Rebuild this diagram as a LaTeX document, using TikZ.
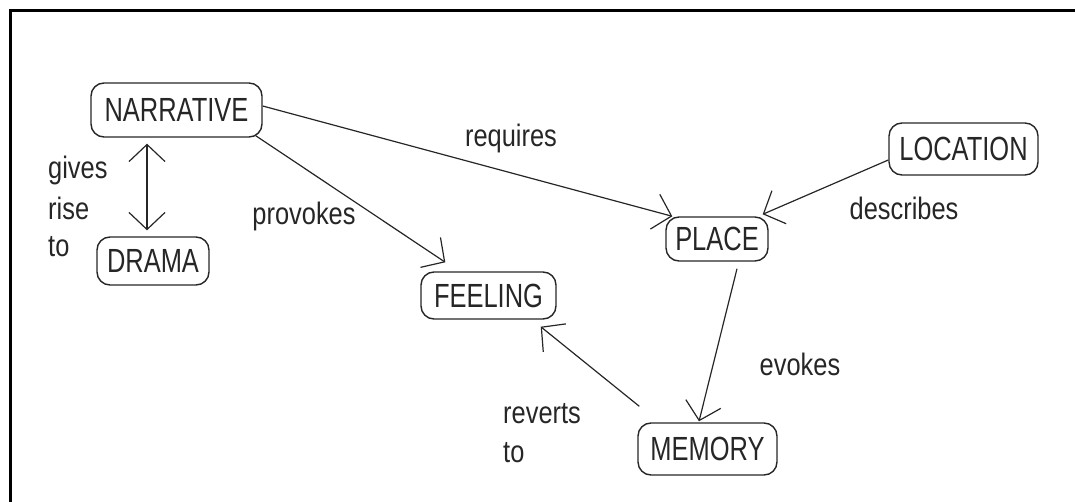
\documentclass[tikz,border=0pt]{standalone}
\usepackage{fontspec}
\newfontfamily\lab[FakeStretch=0.82]{Liberation Sans}
\newfontfamily\boxfont[FakeStretch=0.76]{Liberation Sans}
\usetikzlibrary{arrows.meta}
\begin{document}
\begin{tikzpicture}[x=1pt,y=-1pt,
  box/.style={draw=black!85, line width=1.4pt, rounded corners=13pt, inner sep=0pt,
    font=\boxfont\fontsize{33.5}{40}\selectfont, text=black!85},
  lbl/.style={inner sep=0pt, anchor=base, font=\lab\fontsize{31}{37}\selectfont, text=black!85},
  lbll/.style={lbl, anchor=base west},
  conn/.style={draw=black!85, line width=1.2pt, -{Straight Barb[length=17pt,width=36pt]}},
  dconn/.style={draw=black!85, line width=1.2pt, {Straight Barb[length=17pt,width=36pt]}-{Straight Barb[length=17pt,width=36pt]}}
]
\useasboundingbox (0,0) rectangle (1075,502);
\draw[line width=3.5pt] (10.7,502) -- (10.7,10.7) -- (1075,10.7);

\node[box, minimum width=171pt, minimum height=54pt] (N) at (176.5,110) {NARRATIVE};
\node[box, minimum width=112pt, minimum height=48pt] (D) at (153,261) {DRAMA};
\node[box, minimum width=135pt, minimum height=47pt] (F) at (488.5,295.5) {FEELING};
\node[box, minimum width=102pt, minimum height=44pt] (P) at (717,239) {PLACE};
\node[box, minimum width=149pt, minimum height=52pt] (L) at (963.5,149) {LOCATION};
\node[box, minimum width=139pt, minimum height=52pt] (M) at (707.5,449) {MEMORY};

\draw[dconn] ([xshift=-29.5pt,yshift=-6pt]N.south) -- ([xshift=-6pt,yshift=6pt]D.north);
\draw[conn] ([yshift=4pt]N.east) -- ([xshift=7pt]P.north west);
\draw[conn] ([xshift=-7pt,yshift=2pt]N.south east) -- ([xshift=25pt,yshift=9pt]F.north west);
\draw[conn] ([yshift=-11pt]L.west) -- ([xshift=-6pt,yshift=2pt]P.north east);
\draw[conn] ([xshift=20pt,yshift=-7pt]P.south) -- ([xshift=-8.5pt,yshift=1pt]M.north);
\draw[conn] ([xshift=2pt,yshift=16pt]M.north west) -- ([xshift=-16pt,yshift=-7pt]F.south east);

\node[lbl] (req) at (511,147) {requires};
\node[lbl] (prov) at (304,225) {provokes};
\node[lbll] (gr1) at (48,179) {gives};
\node[lbll] (gr2) at (48,220) {rise};
\node[lbll] (gr3) at (48,257) {to};
\node[lbl] (desc) at (904,220) {describes};
\node[lbl] (evo) at (800,375) {evokes};
\node[lbll] (rev1) at (503,423) {reverts};
\node[lbll] (rev2) at (503,462) {to};
\end{tikzpicture}
\end{document}
